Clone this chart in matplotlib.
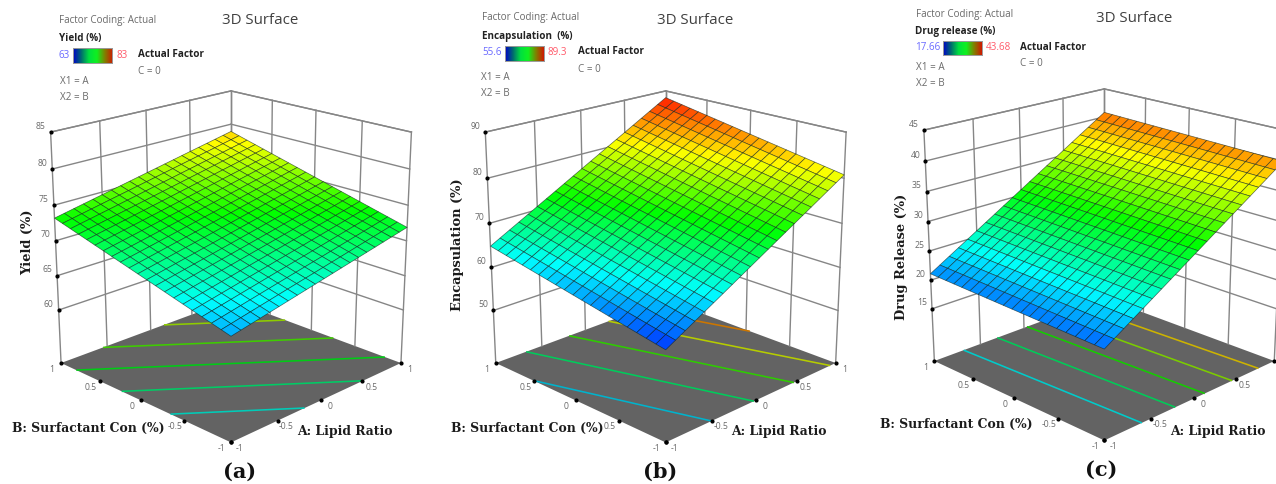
import numpy as np
import matplotlib
matplotlib.use("Agg")
import matplotlib.pyplot as plt
from matplotlib.colors import LinearSegmentedColormap, Normalize
from mpl_toolkits.mplot3d import proj3d

# ---------- values ----------
# surface heights at the four corners (A,B): (-1,-1), (1,-1), (-1,1), (1,1)
yield_corners = [66.2, 71.9, 73.2, 78.9]
encap_corners = [57.2, 80.75, 64.85, 88.4]
drug_corners = [20.25, 39.95, 21.1, 40.8]

yield_range = [63, 83]
encap_range = [55.6, 89.3]
drug_range = [17.66, 43.68]

yield_ticks = [60, 65, 70, 75, 80, 85]
encap_ticks = [50, 60, 70, 80, 90]
drug_ticks = [15, 20, 25, 30, 35, 40, 45]

yield_zlim = [52.1, 85]
encap_zlim = [37.5, 90]
drug_zlim = [5.7, 45]

yield_levels = [68.5, 70.5, 72.5, 74.5, 76.5]
encap_levels = [63, 68.7, 74.4, 79.9, 84.4]
drug_levels = [24.2, 27.9, 31.3, 34.6, 37.9]

factor_ticks = [-1, -0.5, 0, 0.5, 1]
factor_labels_a = ["-1", "-0.5", "0", "0.5", "1"]
factor_labels_b = ["-1", "0.5", "0", "0.5", "1"]
factor_labels_c = ["-1", "-0.5", "0", "0.5", ""]

W, H = 1276, 484
S = 400
GRID = "#868686"
TXT = "#6a6a6a"
SERIF = "DejaVu Serif"
SANS = "Open Sans"

surface_cmap = LinearSegmentedColormap.from_list(
    "de", ["#0000ff", "#00ffff", "#00ff00", "#ffff00", "#ff0000"])
legend_cmap = LinearSegmentedColormap.from_list(
    "leg", ["#0000c8", "#006a70", "#00e040", "#10f020", "#808000", "#d01800"])

fig = plt.figure(figsize=(W / 100, H / 100), dpi=100, facecolor="white")


def px(x, y, s, **kw):
    fig.text(x / W, 1 - y / H, s, va="center", **kw)


def panel(cx, cy, corners, zlim, zticks, vrange, levels, alabels, blabels):
    rect = [(cx - 0.5135 * S) / W, (H - cy - 0.5135 * S) / H, S / W, S / H]
    ax = fig.add_axes(rect, projection="3d", computed_zorder=False,
                      proj_type="persp", focal_length=0.64)
    ax.set_axis_off()
    ax.view_init(elev=19.7, azim=-135)
    ax.set_box_aspect((1, 1, 0.99), zoom=1.037)
    ax.set_xlim(-1, 1, view_margin=0)
    ax.set_ylim(-1, 1, view_margin=0)
    ax.set_zlim(zlim[0], zlim[1], view_margin=0)
    z0, z1 = zlim

    # floor
    fx, fy = np.meshgrid([-1, 1], [-1, 1])
    ax.plot_surface(fx, fy, np.full_like(fx, z0, dtype=float), color="#636363",
                    shade=False, linewidth=0, zorder=1)

    # walls
    lk = dict(color=GRID, lw=1.0, zorder=2)
    for t in factor_ticks:
        ax.plot([t, t], [1, 1], [z0, z1], **lk)
        ax.plot([1, 1], [t, t], [z0, z1], **lk)
    for z in list(zticks) + [z1]:
        ax.plot([-1, 1], [1, 1], [z, z], **lk)
        ax.plot([1, 1], [-1, 1], [z, z], **lk)

    # response surface over the factor grid
    a = np.linspace(-1, 1, 21)
    A, B = np.meshgrid(a, a)
    c = corners
    Z = (c[0] * (1 - A) * (1 - B) + c[1] * (1 + A) * (1 - B)
         + c[2] * (1 - A) * (1 + B) + c[3] * (1 + A) * (1 + B)) / 4
    norm = Normalize(*vrange)

    # floor contours
    lc = [tuple(0.8 * np.array(surface_cmap(norm(v))[:3])) for v in levels]
    ax.contour(A, B, Z, levels=levels, zdir="z", offset=z0, colors=lc,
               linewidths=1.15, zorder=3)

    # tick dots
    dots = dict(ls="none", marker="o", ms=2.0, color="black", zorder=4)
    ax.plot(np.full(len(zticks), -1.0), np.ones(len(zticks)), zticks, **dots)
    ft = np.array(factor_ticks, dtype=float)
    ax.plot(ft, np.full(5, -1.0), np.full(5, z0), **dots)
    ax.plot(np.full(5, -1.0), ft, np.full(5, z0), **dots)

    Zc = 0.25 * (Z[:-1, :-1] + Z[1:, :-1] + Z[:-1, 1:] + Z[1:, 1:])
    ax.plot_surface(A, B, Z, rstride=1, cstride=1, facecolors=surface_cmap(norm(Zc)),
                    shade=False, edgecolor=(0.05, 0.12, 0.1, 0.65),
                    linewidth=0.5, zorder=5, antialiased=True)

    M = ax.get_proj()

    def label(x, y, z, dx, dy, s):
        u, v, _ = proj3d.proj_transform(x, y, z, M)
        ax.annotate(s, (u, v), xytext=(dx * 0.72, -dy * 0.72),
                    textcoords="offset points", ha="center", va="center",
                    fontsize=6.2, color=TXT, family=SANS, annotation_clip=False)

    for z in zticks:
        label(-1, 1, z, -10, -6, f"{z:g}")
    for t, sa, sb in zip(factor_ticks, alabels, blabels):
        if sa:
            label(t, -1, z0, 9, 6, sa)
        label(-1, t, z0, -9, 6, sb)
    return ax


panel(231, 251, yield_corners, yield_zlim, yield_ticks, yield_range, yield_levels,
      factor_labels_a, factor_labels_a)
panel(665.7, 251, encap_corners, encap_zlim, encap_ticks, encap_range, encap_levels,
      factor_labels_a, factor_labels_b)
panel(1104.3, 249, drug_corners, drug_zlim, drug_ticks, drug_range, drug_levels,
      factor_labels_c, factor_labels_a)


def header(x_fc, y_fc, name, y_name, lo, hi, x_hi, y_val, bar, x_af, y_af, y_c, x_x, y_x1, y_x2, x_t, y_t, x_name=None):
    fs = 7.1
    px(x_fc, y_fc, "Factor Coding: Actual", fontsize=fs, color=TXT, family=SANS)
    px(x_name or x_fc, y_name, name, fontsize=fs, color="#222222", family=SANS, fontweight="bold")
    px(x_name or x_fc, y_val, lo, fontsize=fs, color="#6a6aff", family=SANS)
    px(x_hi, y_val, hi, fontsize=fs, color="#ff5a6a", family=SANS)
    px(x_af, y_af, "Actual Factor", fontsize=fs, color="#222222", family=SANS, fontweight="bold")
    px(x_af, y_c, "C = 0", fontsize=fs, color=TXT, family=SANS)
    px(x_x, y_x1, "X1 = A", fontsize=fs, color=TXT, family=SANS)
    px(x_x, y_x2, "X2 = B", fontsize=fs, color=TXT, family=SANS)
    px(x_t, y_t, "3D Surface", fontsize=10.8, color="#404040", family=SANS)
    bx = fig.add_axes([bar[0] / W, 1 - bar[3] / H, (bar[2] - bar[0]) / W, (bar[3] - bar[1]) / H])
    bx.imshow(np.linspace(0, 1, 128)[None, :], cmap=legend_cmap, aspect="auto")
    bx.set_xticks([])
    bx.set_yticks([])
    for sp in bx.spines.values():
        sp.set_color("#9a9a9a")
        sp.set_linewidth(0.7)


header(58.7, 21, "Yield (%)", 39, "63", "83", 116.5, 55, (73.3, 48, 112.3, 63), 138.5, 54.5, 71, 60, 81, 98, 222.5, 21)
header(482, 17.5, "Encapsulation  (%)", 36, "55.6", "89.3", 548, 52.5, (505, 45.7, 543.7, 60.7), 577.5, 52, 69, 481, 77, 94, 657, 21)
header(916, 15, "Drug release (%)", 31.5, "17.66", "43.68", 986, 48, (943.3, 40.7, 981.7, 55.3), 1020, 47, 64, 916, 67, 84, 1096, 19, x_name=915)

lab = dict(family=SERIF, fontweight="bold", color="#1c1c1c", fontsize=8.9)
rot = dict(lab, fontsize=9.4)
for x, y, s in [(28, 242, "Yield (%)"), (457, 245, "Encapsulation (%)"), (902, 257, "Drug Release (%)")]:
    px(x, y, s, rotation=90, ha="center", **rot)
for x, y in [(12, 428), (451, 428), (880, 424)]:
    px(x, y, "B: Surfactant Con (%)", **lab)
for x, y in [(297, 432), (731, 431), (1170, 431)]:
    px(x, y, "A: Lipid Ratio", **lab)
for x, y, s in [(240, 472, "(a)"), (660, 472, "(b)"), (1101, 470, "(c)")]:
    px(x, y, s, ha="center", family=SERIF, fontweight="bold", color="#111111", fontsize=15)

fig.savefig("out.png", dpi=100, facecolor="white")
